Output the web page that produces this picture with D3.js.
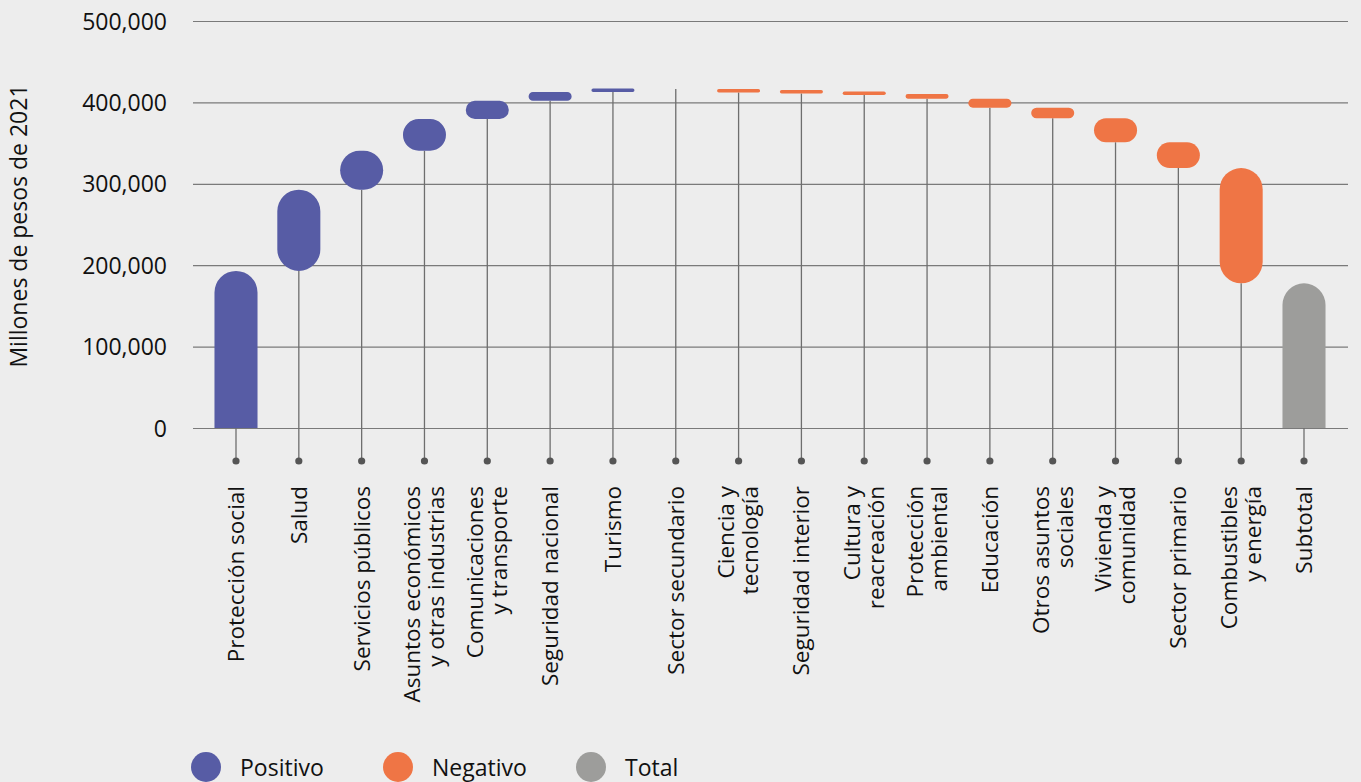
<!DOCTYPE html>
<html>
<head>
<meta charset="utf-8">
<script src="https://cdn.jsdelivr.net/npm/d3@7"></script>
<style>
  html, body { margin: 0; padding: 0; background: #ededed; }
  svg { display: block; font-family: "Open Sans", "Noto Sans", sans-serif; }
</style>
</head>
<body>
<svg id="chart" width="1361" height="782"></svg>
<script>
// Budget variation by function, in millions of 2021 pesos (waterfall)
const categories = [
  ["Protección social"],
  ["Salud"],
  ["Servicios públicos"],
  ["Asuntos económicos", "y otras industrias"],
  ["Comunicaciones", "y transporte"],
  ["Seguridad nacional"],
  ["Turismo"],
  ["Sector secundario"],
  ["Ciencia y", "tecnología"],
  ["Seguridad interior"],
  ["Cultura y", "reacreación"],
  ["Protección", "ambiental"],
  ["Educación"],
  ["Otros asuntos", "sociales"],
  ["Vivienda y", "comunidad"],
  ["Sector primario"],
  ["Combustibles", "y energía"],
  ["Subtotal"]
];
const changes = [
  193000, 99800, 47900, 38900, 22400, 10800, 3700, 0,
  -1300, -1700, -3200, -5700, -11100, -13100, -29400, -31600, -141700
];
const yTicks = [0, 100000, 200000, 300000, 400000, 500000];
const legendItems = ["Positivo", "Negativo", "Total"];
const colors = { Positivo: "#575ca5", Negativo: "#ef7545", Total: "#9d9d9b" };

// Build waterfall steps (start/end) from the changes, then the closing subtotal
const steps = [];
let running = 0;
changes.forEach((v, i) => {
  steps.push({ key: categories[i].join(" "), lines: categories[i], start: running, end: running + v,
               kind: v >= 0 ? "Positivo" : "Negativo" });
  running += v;
});
steps.push({ key: categories[17].join(" "), lines: categories[17], start: 0, end: running, kind: "Total" });

const svg = d3.select("#chart");
const x = d3.scalePoint().domain(steps.map(d => d.key)).range([236, 1304]);
const y = d3.scaleLinear().domain([0, 500000]).range([428, 21]);
const barW = x.step() * 0.685;
const gridX0 = 193, gridX1 = 1348;
const dotY = 461;
const fontFamily = '"Open Sans", "Noto Sans", sans-serif';

// Gridlines and y tick labels
const yAxis = d3.axisLeft(y).tickValues(yTicks).tickFormat(d3.format(",")).tickSize(-(gridX1 - gridX0)).tickPadding(26);
const gy = svg.append("g").attr("transform", `translate(${gridX0},0)`).call(yAxis)
  .attr("font-family", fontFamily).attr("font-size", 23);
gy.select(".domain").remove();
gy.selectAll(".tick line").attr("stroke", "#7a7a7a").attr("stroke-width", 1.2);
gy.selectAll(".tick text").attr("fill", "#111").attr("dy", "0.35em");

// Axis title
svg.append("text")
  .attr("transform", "translate(27,226) rotate(-90)")
  .attr("text-anchor", "middle")
  .style("font-size", "23px")
  .attr("fill", "#111")
  .text("Millones de pesos de 2021");

// Stems from the category dot up to the lower edge of each bar
function barBox(d) {
  const minH = 3.5;
  let top = y(Math.max(d.start, d.end));
  let bottom = y(Math.min(d.start, d.end));
  if (d.end !== d.start && bottom - top < minH) {
    if (d.end > d.start) top = bottom - minH; else bottom = top + minH;
  }
  return { top, bottom };
}

svg.append("g").selectAll("line").data(steps).join("line")
  .attr("x1", d => x(d.key)).attr("x2", d => x(d.key))
  .attr("y1", dotY)
  .attr("y2", d => barBox(d).bottom)
  .attr("stroke", "#6e6e6e").attr("stroke-width", 1.3);

svg.append("g").selectAll("circle").data(steps).join("circle")
  .attr("cx", d => x(d.key)).attr("cy", dotY).attr("r", 3.6)
  .attr("fill", "#555");

// Rounded bars: pill ends, flat base when the bar stands on zero
function barPath(cx, top, bottom, w, flatBase) {
  const h = bottom - top;
  if (h <= 0) return "";
  const r = Math.min(w / 2, h / 2);
  const rb = flatBase ? 0 : r;
  const rt = flatBase ? Math.min(w / 2, h) : r;
  const x0 = cx - w / 2, x1 = cx + w / 2;
  return `M${x0},${top + rt}` +
    `A${rt},${rt} 0 0 1 ${x0 + rt},${top}` +
    `L${x1 - rt},${top}` +
    `A${rt},${rt} 0 0 1 ${x1},${top + rt}` +
    `L${x1},${bottom - rb}` +
    (rb ? `A${rb},${rb} 0 0 1 ${x1 - rb},${bottom}` : "") +
    `L${x0 + rb},${bottom}` +
    (rb ? `A${rb},${rb} 0 0 1 ${x0},${bottom - rb}` : "") +
    "Z";
}

svg.append("g").selectAll("path").data(steps.filter(d => d.end !== d.start)).join("path")
  .attr("d", d => {
    const b = barBox(d);
    return barPath(x(d.key), b.top, b.bottom, barW, Math.min(d.start, d.end) === 0);
  })
  .attr("fill", d => colors[d.kind]);

// Category labels, rotated, one column per line
const lineGap = 24;
const labels = svg.append("g").selectAll("g").data(steps).join("g")
  .attr("transform", d => `translate(${x(d.key)},486) rotate(-90)`);
labels.each(function(d) {
  const n = d.lines.length;
  d3.select(this).selectAll("text").data(d.lines).join("text")
    .attr("x", 0)
    .attr("y", (t, i) => (i - (n - 1) / 2) * lineGap)
    .attr("dy", "0.35em")
    .attr("text-anchor", "end")
    .style("font-size", "22.5px")
    .attr("fill", "#111")
    .text(t => t);
});

// Legend
const legendX = [206, 398, 591];
const lg = svg.append("g").selectAll("g").data(legendItems).join("g")
  .attr("transform", (d, i) => `translate(${legendX[i]},767)`);
lg.append("circle").attr("r", 15).attr("fill", d => colors[d]);
lg.append("text").attr("x", 34).attr("y", 9).style("font-size", "23px").attr("fill", "#111").text(d => d);
</script>
</body>
</html>
